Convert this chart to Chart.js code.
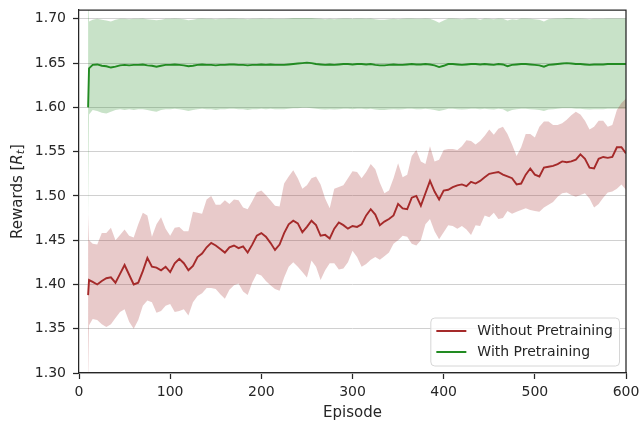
<!DOCTYPE html>
<html>
<head>
<meta charset="utf-8">
<script src="https://cdn.jsdelivr.net/npm/chart.js@4.4.1/dist/chart.umd.min.js"></script>
<style>
  html, body { margin: 0; padding: 0; background: #ffffff; }
  #wrap { width: 639px; height: 422px; }
</style>
</head>
<body>
<div id="wrap"><canvas id="c" width="639" height="422"></canvas></div>
<script>
// Training episodes at which the running rewards were logged
const episodes = [10, 11, 15, 20, 25, 30, 35, 40, 45, 50, 55, 60, 65, 70, 75, 80, 85, 90, 95, 100,
  105, 110, 115, 120, 125, 130, 135, 140, 145, 150, 155, 160, 165, 170, 175, 180, 185, 190, 195, 200,
  205, 210, 215, 220, 225, 230, 235, 240, 245, 250, 255, 260, 265, 270, 275, 280, 285, 290, 295, 300,
  305, 310, 315, 320, 325, 330, 335, 340, 345, 350, 355, 360, 365, 370, 375, 380, 385, 390, 395, 400,
  405, 410, 415, 420, 425, 430, 435, 440, 445, 450, 455, 460, 465, 470, 475, 480, 485, 490, 495, 500,
  505, 510, 515, 520, 525, 530, 535, 540, 545, 550, 555, 560, 565, 570, 575, 580, 585, 590, 595, 600];

// Without pretraining: mean reward and the spread band
const withoutMean = [1.388, 1.405, 1.403, 1.400, 1.404, 1.407, 1.408, 1.402, 1.412, 1.422, 1.411, 1.400, 1.402, 1.415, 1.430, 1.420, 1.419, 1.416, 1.420, 1.414,
  1.424, 1.429, 1.424, 1.416, 1.421, 1.431, 1.435, 1.442, 1.447, 1.444, 1.440, 1.436, 1.442, 1.444, 1.441, 1.443, 1.436, 1.445, 1.455, 1.458,
  1.454, 1.447, 1.439, 1.445, 1.458, 1.468, 1.472, 1.469, 1.459, 1.465, 1.472, 1.467, 1.455, 1.456, 1.452, 1.463, 1.470, 1.467, 1.463, 1.466,
  1.465, 1.468, 1.478, 1.485, 1.479, 1.467, 1.471, 1.474, 1.478, 1.491, 1.486, 1.485, 1.498, 1.500, 1.489, 1.503, 1.517, 1.505, 1.496, 1.506,
  1.507, 1.510, 1.512, 1.513, 1.511, 1.516, 1.514, 1.517, 1.521, 1.525, 1.526, 1.527, 1.524, 1.522, 1.520, 1.513, 1.514, 1.524, 1.531, 1.524,
  1.522, 1.532, 1.533, 1.534, 1.536, 1.539, 1.538, 1.539, 1.541, 1.547, 1.542, 1.532, 1.531, 1.542, 1.544, 1.543, 1.544, 1.555, 1.555, 1.548];
const withoutUpper = [1.480, 1.450, 1.446, 1.445, 1.458, 1.458, 1.464, 1.450, 1.456, 1.462, 1.455, 1.453, 1.468, 1.481, 1.478, 1.454, 1.468, 1.476, 1.463, 1.455,
  1.464, 1.465, 1.460, 1.460, 1.482, 1.481, 1.480, 1.496, 1.500, 1.490, 1.490, 1.495, 1.491, 1.496, 1.495, 1.487, 1.485, 1.494, 1.504, 1.506,
  1.501, 1.495, 1.489, 1.488, 1.514, 1.522, 1.529, 1.520, 1.508, 1.512, 1.520, 1.522, 1.513, 1.497, 1.486, 1.508, 1.510, 1.512, 1.520, 1.528,
  1.527, 1.520, 1.527, 1.536, 1.530, 1.515, 1.503, 1.506, 1.520, 1.537, 1.521, 1.524, 1.545, 1.552, 1.539, 1.536, 1.556, 1.539, 1.541, 1.552,
  1.553, 1.553, 1.552, 1.556, 1.563, 1.562, 1.558, 1.562, 1.568, 1.575, 1.569, 1.576, 1.578, 1.570, 1.558, 1.545, 1.555, 1.570, 1.570, 1.566,
  1.578, 1.584, 1.584, 1.580, 1.580, 1.582, 1.586, 1.591, 1.595, 1.592, 1.585, 1.575, 1.578, 1.585, 1.585, 1.578, 1.580, 1.597, 1.605, 1.610];
const withoutLower = [1.280, 1.354, 1.361, 1.360, 1.355, 1.352, 1.355, 1.362, 1.369, 1.372, 1.358, 1.350, 1.360, 1.376, 1.382, 1.380, 1.368, 1.370, 1.376, 1.378,
  1.369, 1.370, 1.372, 1.365, 1.380, 1.387, 1.390, 1.396, 1.396, 1.395, 1.389, 1.384, 1.394, 1.399, 1.401, 1.392, 1.388, 1.402, 1.412, 1.410,
  1.404, 1.399, 1.395, 1.393, 1.408, 1.420, 1.425, 1.420, 1.414, 1.408, 1.427, 1.420, 1.405, 1.416, 1.424, 1.424, 1.417, 1.418, 1.425, 1.438,
  1.431, 1.420, 1.423, 1.428, 1.431, 1.428, 1.432, 1.436, 1.446, 1.450, 1.455, 1.454, 1.446, 1.444, 1.450, 1.468, 1.474, 1.460, 1.451, 1.459,
  1.467, 1.466, 1.463, 1.466, 1.462, 1.456, 1.467, 1.466, 1.478, 1.476, 1.481, 1.474, 1.475, 1.483, 1.480, 1.482, 1.484, 1.486, 1.484, 1.483,
  1.482, 1.487, 1.490, 1.493, 1.499, 1.503, 1.504, 1.501, 1.499, 1.501, 1.503, 1.497, 1.487, 1.491, 1.498, 1.504, 1.505, 1.508, 1.513, 1.507];

// With pretraining: mean reward and the spread band
const withMean = [1.600, 1.644, 1.648, 1.6485, 1.647, 1.6465, 1.645, 1.646, 1.6475, 1.648, 1.6475, 1.648, 1.648, 1.6485, 1.6475, 1.647, 1.646, 1.647, 1.648, 1.648,
  1.6485, 1.648, 1.6475, 1.6465, 1.647, 1.648, 1.6485, 1.648, 1.648, 1.6475, 1.648, 1.648, 1.6485, 1.6485, 1.648, 1.648, 1.6475, 1.648, 1.648, 1.6485,
  1.648, 1.6485, 1.648, 1.648, 1.648, 1.6485, 1.649, 1.6495, 1.650, 1.6505, 1.650, 1.649, 1.6485, 1.648, 1.6485, 1.648, 1.6485, 1.649, 1.649, 1.6485,
  1.649, 1.649, 1.6485, 1.649, 1.648, 1.6475, 1.6475, 1.648, 1.6485, 1.648, 1.648, 1.6485, 1.649, 1.6485, 1.6485, 1.649, 1.6485, 1.6475, 1.6455, 1.647,
  1.649, 1.649, 1.6485, 1.648, 1.6485, 1.649, 1.649, 1.6485, 1.649, 1.6485, 1.648, 1.649, 1.6485, 1.6465, 1.648, 1.6485, 1.649, 1.649, 1.6485, 1.648,
  1.6475, 1.646, 1.648, 1.6485, 1.649, 1.6495, 1.650, 1.6495, 1.649, 1.649, 1.6485, 1.648, 1.6485, 1.6485, 1.6485, 1.649, 1.649, 1.649, 1.649, 1.649];
const withUpper = [1.730, 1.697, 1.699, 1.700, 1.699, 1.698, 1.697, 1.699, 1.700, 1.700, 1.6995, 1.700, 1.700, 1.7005, 1.6995, 1.699, 1.6985, 1.699, 1.700, 1.700,
  1.7005, 1.700, 1.6995, 1.6985, 1.699, 1.700, 1.7005, 1.700, 1.700, 1.6995, 1.700, 1.700, 1.7005, 1.7005, 1.700, 1.700, 1.6995, 1.700, 1.700, 1.7005,
  1.700, 1.7005, 1.700, 1.700, 1.700, 1.7005, 1.701, 1.701, 1.701, 1.701, 1.701, 1.7005, 1.700, 1.6995, 1.700, 1.6995, 1.700, 1.7005, 1.7005, 1.700,
  1.7005, 1.7005, 1.700, 1.7005, 1.6995, 1.699, 1.699, 1.6995, 1.700, 1.6995, 1.700, 1.7005, 1.7005, 1.700, 1.700, 1.7005, 1.700, 1.698, 1.6955, 1.698,
  1.7005, 1.7005, 1.700, 1.6995, 1.700, 1.7005, 1.7005, 1.699, 1.7005, 1.700, 1.6995, 1.7005, 1.700, 1.698, 1.6995, 1.699, 1.7005, 1.7005, 1.700, 1.6995,
  1.699, 1.697, 1.6995, 1.700, 1.7005, 1.7005, 1.701, 1.701, 1.7005, 1.7005, 1.700, 1.6995, 1.700, 1.700, 1.700, 1.7005, 1.7005, 1.7005, 1.7005, 1.7005];
const withLower = [1.470, 1.592, 1.597, 1.596, 1.594, 1.593, 1.595, 1.597, 1.598, 1.597, 1.598, 1.597, 1.598, 1.598, 1.597, 1.596, 1.595, 1.597, 1.598, 1.598,
  1.5985, 1.598, 1.597, 1.596, 1.597, 1.598, 1.5985, 1.598, 1.598, 1.597, 1.598, 1.598, 1.5985, 1.5985, 1.598, 1.598, 1.597, 1.598, 1.598, 1.5985,
  1.598, 1.5985, 1.598, 1.598, 1.598, 1.5985, 1.599, 1.599, 1.5995, 1.5995, 1.599, 1.5985, 1.598, 1.5975, 1.598, 1.5975, 1.598, 1.5985, 1.5985, 1.598,
  1.5985, 1.5985, 1.598, 1.5985, 1.5975, 1.597, 1.597, 1.5975, 1.598, 1.5975, 1.598, 1.5985, 1.5985, 1.598, 1.598, 1.5985, 1.598, 1.597, 1.596, 1.597,
  1.5985, 1.5985, 1.598, 1.5975, 1.598, 1.5985, 1.5985, 1.598, 1.5985, 1.598, 1.5975, 1.5985, 1.598, 1.595, 1.597, 1.598, 1.5985, 1.5985, 1.598, 1.5975,
  1.597, 1.596, 1.5975, 1.598, 1.5985, 1.599, 1.599, 1.599, 1.5985, 1.5985, 1.598, 1.5975, 1.598, 1.598, 1.598, 1.5985, 1.5985, 1.5985, 1.5985, 1.5985];

// Axis ticks
const xTicks = [0, 100, 200, 300, 400, 500, 600];
const yTicks = [1.30, 1.35, 1.40, 1.45, 1.50, 1.55, 1.60, 1.65, 1.70];

const INK = '#262626';
const FONT = "'DejaVu Sans', sans-serif";
const RED = '#a52a2a';
const GREEN = '#228b22';
const RED_FILL = 'rgba(165, 42, 42, 0.25)';
const GREEN_FILL = 'rgba(34, 139, 34, 0.25)';

const pts = (vals) => episodes.map((e, i) => ({ x: e, y: vals[i] }));

const bandStyle = (fillColor, fillTarget) => ({
  borderColor: 'rgba(0,0,0,0)',
  borderWidth: 0,
  pointRadius: 0,
  tension: 0,
  backgroundColor: fillColor,
  fill: fillTarget
});

// Box around the plotting area (top and right spines)
const framePlugin = {
  id: 'frame',
  afterDatasetsDraw(chart) {
    const { ctx, chartArea: a } = chart;
    ctx.save();
    ctx.strokeStyle = INK;
    ctx.lineWidth = 1.25;
    ctx.beginPath();
    ctx.moveTo(a.left, a.top);
    ctx.lineTo(a.right, a.top);
    ctx.lineTo(a.right, a.bottom);
    ctx.stroke();
    ctx.restore();
  }
};

// Y-axis title with italic R and subscript t
const yTitlePlugin = {
  id: 'yTitle',
  afterDraw(chart) {
    const { ctx, chartArea: a } = chart;
    const size = 15;
    const parts = [
      { text: 'Rewards [', font: `${size}px ${FONT}`, dy: 0 },
      { text: 'R', font: `italic ${size}px ${FONT}`, dy: 0 },
      { text: 't', font: `italic ${Math.round(size * 0.7)}px ${FONT}`, dy: 3.5 },
      { text: ']', font: `${size}px ${FONT}`, dy: 0 }
    ];
    ctx.save();
    let total = 0;
    parts.forEach(p => { ctx.font = p.font; p.w = ctx.measureText(p.text).width; total += p.w; });
    ctx.translate(18, (a.top + a.bottom) / 2);
    ctx.rotate(-Math.PI / 2);
    ctx.fillStyle = INK;
    ctx.textBaseline = 'middle';
    ctx.textAlign = 'left';
    let x = -total / 2;
    parts.forEach(p => { ctx.font = p.font; ctx.fillText(p.text, x, p.dy); x += p.w; });
    ctx.restore();
  }
};

// Legend box in the lower right corner of the plotting area
const legendPlugin = {
  id: 'boxLegend',
  afterDraw(chart) {
    const { ctx, chartArea: a } = chart;
    const items = chart.data.datasets.filter(d => d.label);
    ctx.save();
    ctx.font = `14px ${FONT}`;
    const textW = Math.max(...items.map(d => ctx.measureText(d.label).width));
    const padL = 6, lineLen = 30, gap = 11, padR = 6, rowH = 21;
    const w = padL + lineLen + gap + textW + padR;
    const h = 48;
    const x0 = a.right - 7 - w;
    const y0 = a.bottom - 7.5 - h;
    ctx.beginPath();
    ctx.roundRect(x0 + 0.5, y0 + 0.5, w, h, 4);
    ctx.fillStyle = 'rgba(255,255,255,0.8)';
    ctx.fill();
    ctx.strokeStyle = '#d6d6d6';
    ctx.lineWidth = 1;
    ctx.stroke();
    items.forEach((d, i) => {
      const cy = y0 + 13.5 + i * rowH;
      ctx.beginPath();
      ctx.strokeStyle = d.borderColor;
      ctx.lineWidth = 2;
      ctx.moveTo(x0 + padL, cy);
      ctx.lineTo(x0 + padL + lineLen, cy);
      ctx.stroke();
      ctx.fillStyle = INK;
      ctx.textBaseline = 'middle';
      ctx.textAlign = 'left';
      ctx.fillText(d.label, x0 + padL + lineLen + gap, cy);
    });
    ctx.restore();
  }
};

new Chart(document.getElementById('c'), {
  type: 'line',
  data: {
    datasets: [
      { label: 'Without Pretraining', data: pts(withoutMean), borderColor: RED, borderWidth: 1.9, pointRadius: 0, tension: 0, fill: false },
      { label: 'With Pretraining', data: pts(withMean), borderColor: GREEN, borderWidth: 1.9, pointRadius: 0, tension: 0, fill: false },
      Object.assign({ data: pts(withoutUpper) }, bandStyle(RED_FILL, '+1')),
      Object.assign({ data: pts(withoutLower) }, bandStyle(RED_FILL, false)),
      Object.assign({ data: pts(withUpper) }, bandStyle(GREEN_FILL, '+1')),
      Object.assign({ data: pts(withLower) }, bandStyle(GREEN_FILL, false))
    ]
  },
  options: {
    responsive: false,
    animation: false,
    devicePixelRatio: 1,
    events: [],
    layout: { padding: { top: 10, right: 13, bottom: 0, left: 0 } },
    plugins: { legend: { display: false }, tooltip: { enabled: false } },
    scales: {
      x: {
        type: 'linear',
        min: 0,
        max: 600,
        afterBuildTicks: s => { s.ticks = xTicks.map(v => ({ value: v })); },
        afterFit: s => { s.height = 49; s.paddingLeft = 0; s.paddingRight = 0; },
        ticks: { color: INK, font: { family: FONT, size: 14 }, padding: 5, maxRotation: 0, autoSkip: false },
        grid: { drawOnChartArea: false, drawTicks: true, tickLength: 6, tickColor: INK, tickWidth: 1.25 },
        border: { color: INK, width: 1.25 },
        title: { display: true, text: 'Episode', color: INK, font: { family: FONT, size: 15 }, padding: { top: 0, bottom: 0 } }
      },
      y: {
        min: 1.30,
        max: 1.71,
        afterBuildTicks: s => { s.ticks = yTicks.map(v => ({ value: v })); },
        afterFit: s => { s.width = 79; s.paddingTop = 0; s.paddingBottom = 0; },
        ticks: { color: INK, font: { family: FONT, size: 14 }, padding: 7, callback: v => Number(v).toFixed(2) },
        grid: { color: '#d0d0d0', lineWidth: 1, drawTicks: true, tickLength: 6, tickColor: INK, tickWidth: 1.25 },
        border: { color: INK, width: 1.25 }
      }
    }
  },
  plugins: [framePlugin, yTitlePlugin, legendPlugin]
});
</script>
</body>
</html>
